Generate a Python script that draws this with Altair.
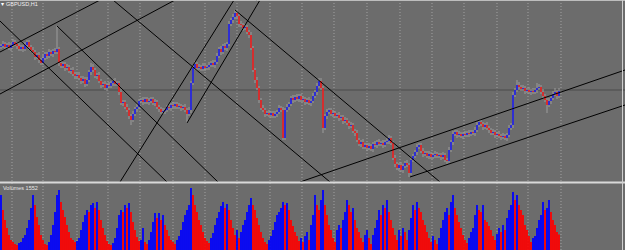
import altair as alt
import pandas as pd

# ---------------- data (prices in pips above BASE_PRICE) ----------------
BASE_PRICE = 1.5500
PIP = 0.0001
FIRST_OPEN = 133

close_pips = [
    134, 136, 133, 135, 132, 135, 138, 136, 134, 131,
    133, 131, 135, 138, 133, 130, 128, 123, 125, 120,
    117, 122, 126, 124, 128, 126, 129, 128, 131, 117,
    114, 116, 112, 113, 109, 110, 106, 104, 105, 102,
    99, 101, 96, 100, 108, 113, 110, 104, 105, 99,
    95, 96, 92, 95, 94, 97, 99, 96, 97, 88,
    77, 78, 73, 70, 64, 60, 66, 71, 73, 79,
    80, 78, 81, 78, 79, 81, 77, 78, 73, 71,
    68, 69, 70, 73, 72, 75, 74, 76, 73, 74,
    72, 73, 70, 66, 70, 97, 112, 116, 112, 113,
    111, 114, 112, 113, 115, 117, 115, 118, 124, 131,
    128, 134, 132, 136, 156, 160, 163, 167, 164, 156,
    155, 152, 153, 148, 145, 132, 110, 100, 92, 80,
    72, 70, 66, 67, 65, 67, 64, 66, 68, 72,
    70, 42, 70, 73, 76, 82, 80, 83, 81, 84,
    80, 81, 78, 80, 77, 79, 84, 88, 94, 99,
    92, 52, 64, 68, 70, 66, 67, 64, 65, 62,
    63, 59, 60, 57, 54, 55, 49, 47, 40, 36,
    38, 33, 35, 32, 34, 31, 36, 35, 38, 36,
    37, 35, 38, 39, 42, 37, 22, 16, 12, 15,
    10, 14, 17, 15, 7, 20, 24, 28, 33, 35,
    29, 26, 27, 24, 26, 23, 25, 26, 24, 25,
    23, 25, 20, 19, 30, 38, 46, 48, 45, 46,
    44, 46, 45, 47, 46, 48, 47, 50, 55, 58,
    56, 53, 55, 52, 50, 47, 48, 45, 46, 44,
    43, 44, 42, 45, 52, 55, 85, 90, 95, 93,
    91, 92, 89, 90, 88, 89, 88, 90, 92, 93,
    88, 84, 80, 75, 79, 82, 86, 88, 84, 89,
]

upper_wick = [
    2, 3, 2, 2, 3, 2, 3, 2, 2, 3, 2, 2, 3, 2, 2, 2, 3, 2, 2, 3,
    2, 3, 2, 2, 3, 2, 2, 3, 23, 2, 3, 2, 2, 3, 2, 2, 3, 2, 2, 3,
    2, 3, 2, 3, 2, 4, 3, 2, 2, 3, 2, 2, 3, 2, 3, 2, 2, 3, 2, 2,
    3, 2, 2, 3, 2, 2, 3, 2, 3, 2, 2, 3, 2, 2, 3, 2, 2, 3, 2, 2,
    2, 3, 2, 2, 3, 2, 3, 2, 2, 3, 2, 2, 3, 2, 3, 2, 3, 3, 2, 3,
    2, 3, 2, 2, 3, 2, 3, 2, 3, 2, 3, 2, 3, 2, 3, 2, 3, 3, 3, 2,
    3, 2, 3, 2, 2, 3, 2, 2, 3, 2, 2, 3, 2, 2, 3, 2, 2, 3, 2, 3,
    2, 3, 2, 3, 2, 2, 3, 2, 3, 2, 2, 3, 2, 2, 3, 2, 3, 2, 3, 3,
    3, 2, 2, 3, 2, 2, 3, 2, 2, 3, 2, 2, 3, 2, 2, 3, 2, 2, 3, 2,
    2, 3, 2, 2, 3, 2, 2, 3, 2, 3, 2, 3, 2, 3, 3, 2, 2, 3, 2, 2,
    3, 2, 2, 3, 2, 3, 2, 2, 3, 2, 2, 3, 2, 2, 3, 2, 2, 3, 2, 2,
    2, 3, 2, 2, 3, 2, 3, 2, 2, 3, 2, 2, 3, 2, 3, 2, 2, 3, 3, 2,
    3, 2, 2, 3, 2, 2, 3, 2, 2, 3, 2, 3, 2, 2, 3, 2, 3, 2, 5, 3,
    2, 3, 2, 2, 3, 2, 3, 2, 5, 3, 2, 3, 2, 2, 3, 2, 3, 4, 2, 3,
]

lower_wick = [
    2, 2, 3, 2, 2, 3, 2, 2, 3, 2, 2, 3, 2, 2, 3, 2, 2, 3, 2, 3,
    2, 2, 2, 3, 2, 2, 3, 2, 2, 3, 2, 2, 3, 2, 2, 3, 2, 3, 2, 2,
    3, 2, 3, 2, 2, 3, 2, 2, 3, 2, 3, 2, 2, 3, 2, 2, 3, 2, 2, 3,
    2, 3, 2, 2, 3, 5, 2, 2, 3, 2, 2, 3, 2, 2, 3, 2, 2, 3, 2, 3,
    2, 2, 3, 2, 2, 3, 2, 3, 2, 2, 3, 2, 2, 9, 2, 3, 2, 2, 3, 2,
    2, 2, 3, 2, 3, 2, 2, 3, 2, 2, 3, 2, 2, 3, 2, 2, 3, 2, 2, 3,
    2, 3, 2, 2, 3, 2, 2, 3, 2, 3, 2, 2, 3, 2, 2, 3, 2, 2, 3, 2,
    2, 2, 2, 2, 3, 2, 3, 2, 2, 3, 2, 2, 3, 2, 2, 3, 2, 2, 3, 2,
    2, 5, 2, 3, 2, 2, 3, 2, 2, 3, 2, 3, 2, 2, 3, 2, 2, 3, 2, 2,
    3, 2, 2, 3, 2, 2, 3, 2, 3, 2, 2, 3, 2, 2, 3, 2, 2, 3, 2, 3,
    2, 3, 2, 2, 4, 2, 2, 2, 3, 2, 2, 3, 2, 2, 3, 2, 2, 3, 2, 2,
    3, 2, 2, 3, 2, 2, 3, 2, 3, 2, 2, 3, 2, 2, 3, 2, 2, 3, 2, 2,
    2, 3, 2, 2, 3, 2, 2, 3, 2, 2, 3, 2, 2, 3, 2, 2, 3, 2, 2, 3,
    2, 2, 3, 2, 2, 3, 2, 2, 3, 2, 2, 3, 2, 8, 2, 3, 2, 2, 3, 2,
]

# tick volume, hundreds of ticks
volumes = [
    55, 40, 30, 22, 15, 10, 8, 6, 5, 7,
    8, 12, 15, 22, 30, 42, 55, 45, 33, 25,
    15, 10, 6, 5, 8, 15, 25, 38, 55, 60,
    48, 40, 33, 25, 18, 12, 10, 8, 9, 12,
    20, 28, 35, 40, 38, 45, 47, 42, 48, 40,
    30, 22, 15, 9, 6, 5, 7, 12, 22, 35,
    40, 38, 45, 42, 47, 38, 28, 20, 13, 9,
    10, 22, 8, 6, 10, 18, 28, 37, 32, 37,
    30, 35, 25, 20, 14, 10, 8, 6, 10, 14,
    20, 28, 35, 40, 45, 62, 55, 45, 38, 30,
    25, 18, 12, 9, 7, 12, 17, 25, 32, 38,
    44, 48, 42, 46, 40, 30, 22, 15, 20, 12,
    18, 25, 30, 38, 45, 52, 45, 40, 32, 25,
    18, 12, 8, 6, 10, 14, 20, 28, 35, 38,
    42, 48, 45, 47, 40, 30, 24, 18, 14, 9,
    12, 8, 14, 18, 10, 25, 35, 55, 45, 40,
    50, 60, 45, 35, 25, 20, 12, 8, 20, 25,
    22, 30, 38, 50, 45, 38, 42, 30, 22, 18,
    12, 8, 15, 20, 12, 6, 15, 22, 30, 40,
    35, 45, 42, 50, 38, 30, 22, 15, 10, 20,
    14, 22, 18, 10, 20, 32, 45, 40, 48, 42,
    38, 30, 25, 18, 12, 8, 14, 10, 6, 12,
    22, 30, 38, 42, 35, 48, 55, 42, 35, 28,
    22, 15, 10, 7, 12, 18, 22, 35, 45, 40,
    38, 45, 30, 28, 24, 20, 14, 10, 16, 22,
    18, 25, 20, 32, 40, 45, 58, 50, 55, 45,
    40, 35, 25, 20, 14, 8, 12, 14, 22, 30,
    35, 48, 40, 42, 50, 38, 30, 25, 18, 15.52,
]

grid_bars = [5.5, 21, 38, 53.5, 69.5, 86, 102, 118, 134.5, 150.5,
             166.5, 183, 199.5, 215.5, 231.5, 248, 263.5, 280]
bid_pips = 90

line_x1 = [-0.5, -0.5, -0.5, 28, 56, 59.5, 93, 117, 149.5, 204.5]
line_p1 = [128, 86, 159, 154, 180, -2, 57, 170, -2, 3]
line_x2 = [49.5, 87, 83, 108.5, 164.5, 116.5, 129.5, 219.5, 312, 312]
line_p2 = [180, 180, -2, -2, -2, 180, 180, -2, 110, 75]

symbol_label = "GBPUSD,H1"
volume_label = "Volumes 1552"

# ---------------- tables ----------------
def px(p):
    return BASE_PRICE + p * PIP

n = len(close_pips)
opens = [FIRST_OPEN] + close_pips[:-1]
candles = pd.DataFrame({
    "bar": list(range(n)),
    "open": [px(o) for o in opens],
    "close": [px(c) for c in close_pips],
    "high": [px(max(o, c) + u) for o, c, u in zip(opens, close_pips, upper_wick)],
    "low": [px(min(o, c) - l) for o, c, l in zip(opens, close_pips, lower_wick)],
    "dir": ["up" if c >= o else "down" for o, c in zip(opens, close_pips)],
})

vol = pd.DataFrame({
    "bar": list(range(n)),
    "vol": volumes,
    "base": [0] * n,
    "dir": ["up" if i == 0 or volumes[i] > volumes[i - 1] else "down" for i in range(n)],
})

lines = pd.DataFrame({
    "x1": line_x1, "x2": line_x2,
    "p1": [px(p) for p in line_p1], "p2": [px(p) for p in line_p2],
})

grid = pd.DataFrame({"g": grid_bars})
bid = pd.DataFrame({"p": [px(bid_pips)]})
one = pd.DataFrame({"a": [0]})

# ---------------- scales ----------------
X = alt.Scale(domain=[-0.5, 312], range=[0, 625], nice=False, zero=False)
YP = alt.Scale(domain=[px(0), px(180)], range=[180, 0], nice=False, zero=False)
YV = alt.Scale(domain=[0, 66], range=[250, 184], nice=False, zero=False)
COL = alt.Scale(domain=["up", "down"], range=["#0000ff", "#ff0000"])

grid_layer = alt.Chart(grid).mark_rule(color="#b0b0b0", strokeWidth=0.8, strokeDash=[1, 2]).encode(
    x=alt.X("g:Q", scale=X, axis=None))

bid_layer = alt.Chart(bid).mark_rule(color="#4a4a4a", strokeWidth=1).encode(
    y=alt.Y("p:Q", scale=YP, axis=None))

wicks = alt.Chart(candles).mark_rule(color="#9c9c9c", strokeWidth=1).encode(
    x=alt.X("bar:Q", scale=X, axis=None),
    y=alt.Y("low:Q", scale=YP, axis=None),
    y2="high:Q")

bodies = alt.Chart(candles).mark_rule(strokeWidth=1.3).encode(
    x=alt.X("bar:Q", scale=X, axis=None),
    y=alt.Y("open:Q", scale=YP, axis=None),
    y2="close:Q",
    color=alt.Color("dir:N", scale=COL, legend=None))

trend = alt.Chart(lines).mark_rule(color="#000000", strokeWidth=1, clip=True).encode(
    x=alt.X("x1:Q", scale=X, axis=None), x2="x2:Q",
    y=alt.Y("p1:Q", scale=YP, axis=None), y2="p2:Q")

price_panel = alt.layer(bid_layer, wicks, bodies, trend)

vol_panel = alt.Chart(vol).mark_rule(strokeWidth=1.8).encode(
    x=alt.X("bar:Q", scale=X, axis=None),
    y=alt.Y("vol:Q", scale=YV, axis=None),
    y2="base:Q",
    color=alt.Color("dir:N", scale=COL, legend=None))

sep = alt.Chart(one).mark_rule(color="#d9d9d9", strokeWidth=2).encode(
    x=alt.value(0), x2=alt.value(625), y=alt.value(182.5))
top_border = alt.Chart(one).mark_rule(color="#bdbdbd", strokeWidth=1).encode(
    x=alt.value(0), x2=alt.value(625), y=alt.value(0.5))
right_border = alt.Chart(one).mark_rule(color="#cfcfcf", strokeWidth=1).encode(
    x=alt.value(622.5), y=alt.value(0), y2=alt.value(250))

sym_icon = alt.Chart(one).mark_text(text="▾", color="#ffffff", fontSize=6, align="left", baseline="top",
                                    font="DejaVu Sans").encode(x=alt.value(1), y=alt.value(1))
sym_text = alt.Chart(one).mark_text(text=symbol_label, color="#f0f0f0", fontSize=5.5, align="left",
                                    baseline="top", font="Liberation Sans").encode(x=alt.value(6), y=alt.value(2))
vol_text = alt.Chart(one).mark_text(text=volume_label, color="#e6e6e6", fontSize=5.5, align="left",
                                    baseline="top", font="Liberation Sans").encode(x=alt.value(3), y=alt.value(185.5))

chart = alt.layer(
    grid_layer, price_panel, vol_panel, sep, top_border, right_border, sym_icon, sym_text, vol_text
).resolve_scale(y="independent").properties(
    width=625, height=250, autosize=alt.AutoSizeParams(type="none"), padding=0,
    background="#6c6c6c",
).configure_view(strokeWidth=0, fill="#6c6c6c")

chart.save("out.html", embed_options={"renderer": "svg", "actions": False})
